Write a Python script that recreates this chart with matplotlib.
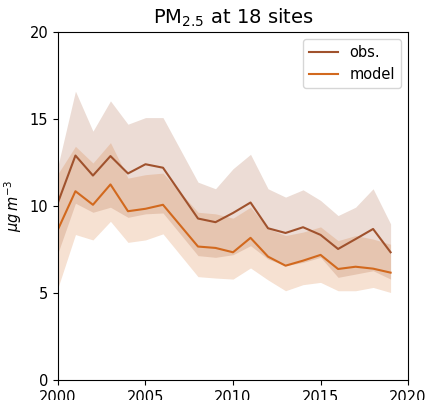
import matplotlib
matplotlib.use('Agg')
import matplotlib.pyplot as plt

# 2007 missing in the record
years = [2000, 2001, 2002, 2003, 2004, 2005, 2006, 2008, 2009, 2010,
         2011, 2012, 2013, 2014, 2015, 2016, 2017, 2018, 2019]

obs = [10.2, 12.9, 11.75, 12.87, 11.87, 12.4, 12.2, 9.28, 9.07, 9.6,
       10.2, 8.72, 8.45, 8.78, 8.34, 7.53, 8.1, 8.68, 7.34]
obs_hi = [12.3, 16.6, 14.3, 16.04, 14.7, 15.08, 15.08, 11.37, 10.99, 12.14,
          12.97, 10.99, 10.51, 10.93, 10.32, 9.45, 9.93, 10.99, 8.97]
obs_lo = [7.3, 10.16, 9.64, 9.93, 9.35, 9.55, 9.6, 7.15, 7.05, 7.2,
          7.72, 6.95, 6.57, 6.76, 7.05, 5.9, 6.09, 6.28, 5.8]

model = [8.65, 10.85, 10.07, 11.24, 9.7, 9.84, 10.07, 7.67, 7.59, 7.34,
         8.17, 7.09, 6.57, 6.86, 7.19, 6.38, 6.51, 6.4, 6.17]
model_hi = [11.85, 13.43, 12.47, 13.64, 11.6, 11.8, 11.89, 9.64, 9.55, 9.3,
            9.93, 8.7, 8.3, 8.5, 8.8, 8.01, 8.3, 8.1, 7.8]
model_lo = [5.3, 8.36, 8.05, 9.12, 7.91, 8.05, 8.4, 5.94, 5.86, 5.8,
            6.44, 5.75, 5.13, 5.48, 5.61, 5.13, 5.13, 5.32, 5.03]

fig = plt.figure(figsize=(4.26, 4.0), dpi=100)
ax = fig.add_axes([0.136, 0.05, 0.822, 0.87])

ax.fill_between(years, obs_lo, obs_hi, color='sienna', alpha=0.2, lw=0)
ax.plot(years, obs, color='sienna', lw=1.5, label='obs.')
ax.fill_between(years, model_lo, model_hi, color='chocolate', alpha=0.2, lw=0)
ax.plot(years, model, color='chocolate', lw=1.5, label='model')

ax.set_xlim(2000, 2020)
ax.set_ylim(0, 20)
ax.set_xticks([2000, 2005, 2010, 2015, 2020])
ax.set_yticks([0, 5, 10, 15, 20])
ax.tick_params(labelsize=10.5)
ax.set_ylabel(r'$\mu g\,m^{-3}$', fontsize=10.5)
ax.set_title(r'PM$_{2.5}$ at 18 sites', fontsize=14)
ax.legend(loc='upper right', fontsize=10.5)

fig.savefig('out.png', dpi=100)
